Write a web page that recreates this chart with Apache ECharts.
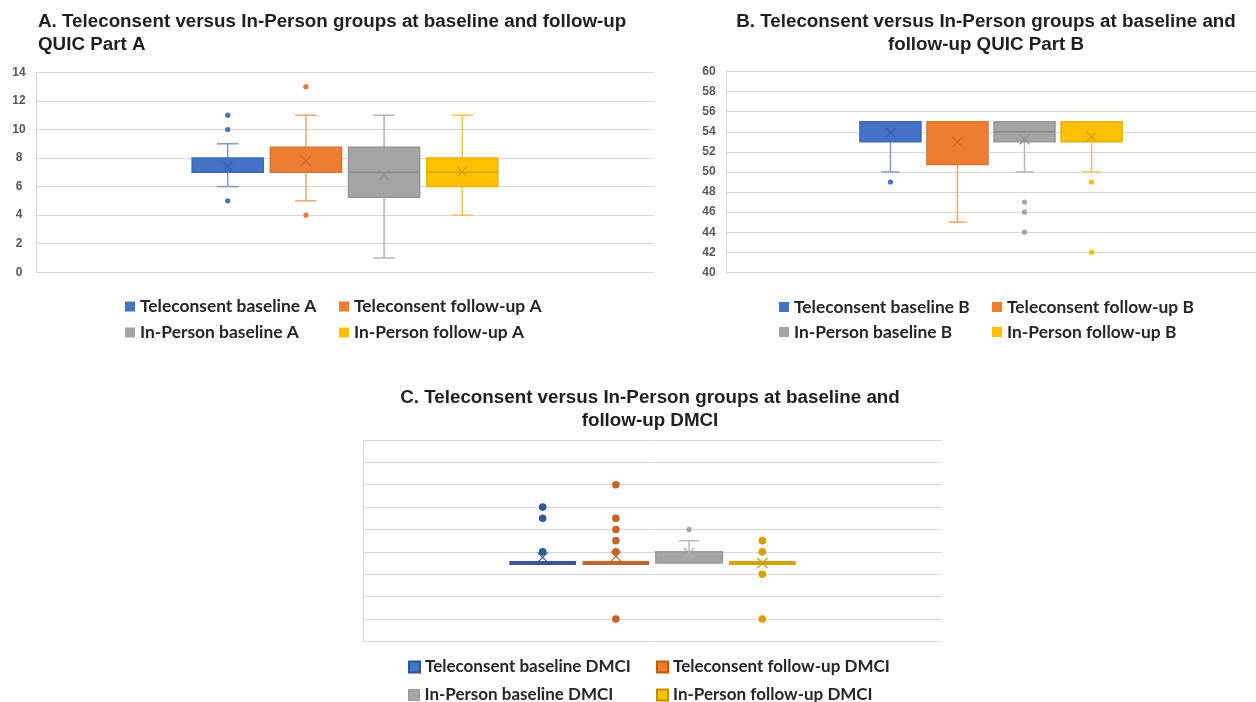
<!DOCTYPE html>
<html><head><meta charset="utf-8">
<script src="https://cdn.jsdelivr.net/npm/echarts@6/dist/echarts.min.js"></script>
<style>html,body{margin:0;padding:0;background:#fff}#c{width:1256px;height:702px}</style>
</head><body><div id="c"></div><script>
// ---------- DATA ----------
// box values: [min, Q1, median, Q3, max]
const namesA = ['Teleconsent baseline A', 'Teleconsent follow-up A', 'In-Person baseline A', 'In-Person follow-up A'];
const boxA = [[6, 7, 7, 8, 9], [5, 7, 7, 8.75, 11], [1, 5.25, 7, 8.75, 11], [4, 6, 7, 8, 11]];
const meanA = [7.4, 7.8, 6.8, 7.05];
const outA = [[5, 10, 11], [4, 13], [], []];
const ticksA = {min: 0, max: 14, interval: 2};

const namesB = ['Teleconsent baseline B', 'Teleconsent follow-up B', 'In-Person baseline B', 'In-Person follow-up B'];
const boxB = [[50, 53, 55, 55, 55], [45, 50.75, 55, 55, 55], [50, 53, 54, 55, 55], [50, 53, 55, 55, 55]];
const meanB = [53.9, 53.0, 53.25, 53.5];
const outB = [[49], [], [44, 46, 47], [42, 49]];
const ticksB = {min: 40, max: 60, interval: 2};

const namesC = ['Teleconsent baseline DMCI', 'Teleconsent follow-up DMCI', 'In-Person baseline DMCI', 'In-Person follow-up DMCI'];
const boxC = [[7, 7, 7, 7, 7], [7, 7, 7, 7, 7], [7, 7, 7, 8, 9], [7, 7, 7, 7, 7]];
const meanC = [7.5, 7.6, 7.9, 7.0];
const outC = [[8, 11, 12], [2, 8, 9, 10, 11, 14], [10], [2, 6, 8, 9]];
const ticksC = {min: 0, max: 18, interval: 2};

const category = [''];

// ---------- STYLE ----------
const STEP = 0.1265, BOX_FRAC = 0.91, CAP_FRAC = 0.3;
const styleAB = {
  fill: ['#4472C4', '#ED7D31', '#A5A5A5', '#FFC000'],
  border: ['#3f69b6', '#dc7430', '#979797', '#eab000'],
  whisker: ['#7f9bd3', '#eea57a', '#b5b5b5', '#efc452'],
  median: ['#3a62ad', '#c9692a', '#8a8a8a', '#d9a300'],
  mean: ['#3b5fa6', '#c9692c', '#8c8c8c', '#cf9f10'],
  point: ['#4472C4', '#ED7D31', '#A5A5A5', '#FFC000'],
  r: [2.6, 2.6, 2.6, 2.6],
  borderWidth: 1.5, whiskerWidth: 1.5, flatWidth: 4, meanSize: 10
};
const styleC = {
  fill: ['#34589c', '#c5652b', '#a5a5a5', '#d5a100'],
  border: ['#34589c', '#c5652b', '#9a9a9a', '#d5a100'],
  whisker: ['#34589c', '#c5652b', '#b8b8b8', '#d5a100'],
  median: ['#34589c', '#c5652b', '#8a8a8a', '#d5a100'],
  mean: ['#34589c', '#c5652b', '#b0b0b0', '#d5a100'],
  point: ['#34589c', '#c5652b', '#a5a5a5', '#d5a100'],
  r: [3.8, 3.8, 2.6, 3.8],
  borderWidth: 1.5, whiskerWidth: 1.5, flatWidth: 4, meanSize: 10
};

function boxRender(st, i) {
  return function (params, api) {
    const band = api.size([1, 0])[0];
    const step = band * STEP, bw = step * BOX_FRAC, cw = bw * CAP_FRAC;
    const cx = api.coord([0, 0])[0] + (i - 1.5) * step;
    const py = d => api.coord([0, api.value(d)])[1];
    const yMin = py(1), yQ1 = py(2), yMed = py(3), yQ3 = py(4), yMax = py(5), yMean = py(6);
    const c = [];
    const wl = {stroke: st.whisker[i], lineWidth: st.whiskerWidth};
    if (yMax < yQ3 - 0.5) {
      c.push({type: 'line', shape: {x1: cx, y1: yQ3, x2: cx, y2: yMax}, style: wl});
      c.push({type: 'line', shape: {x1: cx - cw / 2, y1: yMax, x2: cx + cw / 2, y2: yMax}, style: wl});
    }
    if (yMin > yQ1 + 0.5) {
      c.push({type: 'line', shape: {x1: cx, y1: yQ1, x2: cx, y2: yMin}, style: wl});
      c.push({type: 'line', shape: {x1: cx - cw / 2, y1: yMin, x2: cx + cw / 2, y2: yMin}, style: wl});
    }
    if (Math.abs(yQ1 - yQ3) < 0.5) {
      c.push({type: 'line', shape: {x1: cx - bw / 2, y1: yQ1, x2: cx + bw / 2, y2: yQ1},
        style: {stroke: st.fill[i], lineWidth: st.flatWidth}});
    } else {
      c.push({type: 'rect', shape: {x: cx - bw / 2, y: yQ3, width: bw, height: yQ1 - yQ3},
        style: {fill: st.fill[i], stroke: st.border[i], lineWidth: st.borderWidth}});
      if (yMed < yQ1 - 0.5 && yMed > yQ3 + 0.5) {
        c.push({type: 'line', shape: {x1: cx - bw / 2, y1: yMed, x2: cx + bw / 2, y2: yMed},
          style: {stroke: st.median[i], lineWidth: 1.5}});
      }
    }
    const m = st.meanSize / 2;
    const ml = {stroke: st.mean[i], lineWidth: 1.2};
    c.push({type: 'line', shape: {x1: cx - m, y1: yMean - m, x2: cx + m, y2: yMean + m}, style: ml});
    c.push({type: 'line', shape: {x1: cx - m, y1: yMean + m, x2: cx + m, y2: yMean - m}, style: ml});
    return {type: 'group', children: c};
  };
}
function pointRender(st, i) {
  return function (params, api) {
    const band = api.size([1, 0])[0];
    const cx = api.coord([0, 0])[0] + (i - 1.5) * band * STEP;
    const cy = api.coord([0, api.value(1)])[1];
    return {type: 'circle', shape: {cx: cx, cy: cy, r: st.r[i]}, style: {fill: st.point[i]}};
  };
}

const panels = [
  {names: namesA, box: boxA, mean: meanA, out: outA, ticks: ticksA, st: styleAB},
  {names: namesB, box: boxB, mean: meanB, out: outB, ticks: ticksB, st: styleAB},
  {names: namesC, box: boxC, mean: meanC, out: outC, ticks: ticksC, st: styleC}
];

const grids = [
  {left: 36, top: 72.4, width: 618, height: 199.8},
  {left: 726, top: 71.5, width: 540, height: 200.9},
  {left: 363, top: 440, width: 579, height: 201.3}
];

const labelFont = {fontFamily: 'Liberation Sans', fontWeight: 'bold', fontSize: 12, color: '#595959'};
const xAxes = [], yAxes = [], series = [];
panels.forEach((p, g) => {
  xAxes.push({type: 'category', gridIndex: g, data: category, show: false});
  yAxes.push({
    type: 'value', gridIndex: g, min: p.ticks.min, max: p.ticks.max, interval: p.ticks.interval,
    axisLine: {show: true, lineStyle: {color: '#d9d9d9', width: 1}}, axisTick: {show: false},
    splitLine: {lineStyle: {color: '#d9d9d9', width: 1}},
    axisLabel: Object.assign({show: g < 2, align: 'center', margin: 17}, labelFont)
  });
  p.names.forEach((nm, i) => {
    series.push({
      type: 'custom', name: nm, xAxisIndex: g, yAxisIndex: g,
      itemStyle: {color: p.st.fill[i]},
      encode: {x: 0, y: [1, 2, 3, 4, 5]},
      data: [[0].concat(p.box[i], [p.mean[i]])],
      renderItem: boxRender(p.st, i)
    });
    series.push({
      type: 'custom', name: nm, xAxisIndex: g, yAxisIndex: g,
      itemStyle: {color: p.st.fill[i]},
      encode: {x: 0, y: 1},
      data: p.out[i].map(v => [0, v]),
      renderItem: pointRender(p.st, i)
    });
  });
});

const legIconAB = [0, 1, 2, 3].map(i => ({color: styleAB.fill[i]}));
const legIconC = [
  {color: '#4472C4', borderColor: '#2F5597', borderWidth: 2},
  {color: '#ED7D31', borderColor: '#C55A11', borderWidth: 2},
  {color: '#A5A5A5', borderColor: '#999999', borderWidth: 1},
  {color: '#FFC000', borderColor: '#BF9000', borderWidth: 2}
];
function legendItem(name, itemStyle, left, cy, size, fontSize) {
  const lh = 18;
  return {
    orient: 'horizontal', left: left, top: cy - lh / 2, padding: 0,
    itemWidth: size, itemHeight: size, icon: 'rect', selectedMode: false,
    textStyle: {fontFamily: 'Lato', fontWeight: 'bold', fontSize: fontSize, color: '#262626', lineHeight: lh},
    data: [{name: name, itemStyle: itemStyle}]
  };
}
const legendLayout = [
  {names: namesA, icons: legIconAB, cols: [125, 339], rows: [306.5, 332.5], size: 10, font: 17.4},
  {names: namesB, icons: legIconAB, cols: [779, 992], rows: [307, 332], size: 10, font: 17.4},
  {names: namesC, icons: legIconC, cols: [408, 656], rows: [667, 695], size: 11, font: 17}
];
const legends = [];
legendLayout.forEach(L => {
  L.names.forEach((nm, i) => {
    legends.push(legendItem(nm, L.icons[i], L.cols[i % 2], L.rows[Math.floor(i / 2)], L.size, L.font));
  });
});

const titleText = {fontFamily: 'Liberation Sans', fontWeight: 'bold', fontSize: 18.8, color: '#1f1f1f', lineHeight: 23};
const titles = [
  {text: 'A. Teleconsent versus In-Person groups at baseline and follow-up\nQUIC Part A', left: 38, top: 10.5, padding: 0, textAlign: 'left', textStyle: titleText},
  {text: 'B. Teleconsent versus In-Person groups at baseline and\nfollow-up QUIC Part B', left: 986, top: 10.5, padding: 0, textAlign: 'center', textStyle: titleText},
  {text: 'C. Teleconsent versus In-Person groups at baseline and\nfollow-up DMCI', left: 650, top: 386.5, padding: 0, textAlign: 'center', textStyle: titleText}
];

const chart = echarts.init(document.getElementById('c'), null, {renderer: 'canvas'});
chart.setOption({
  animation: false,
  backgroundColor: '#ffffff',
  title: titles,
  legend: legends,
  grid: grids,
  xAxis: xAxes,
  yAxis: yAxes,
  series: series
});
</script></body></html>
